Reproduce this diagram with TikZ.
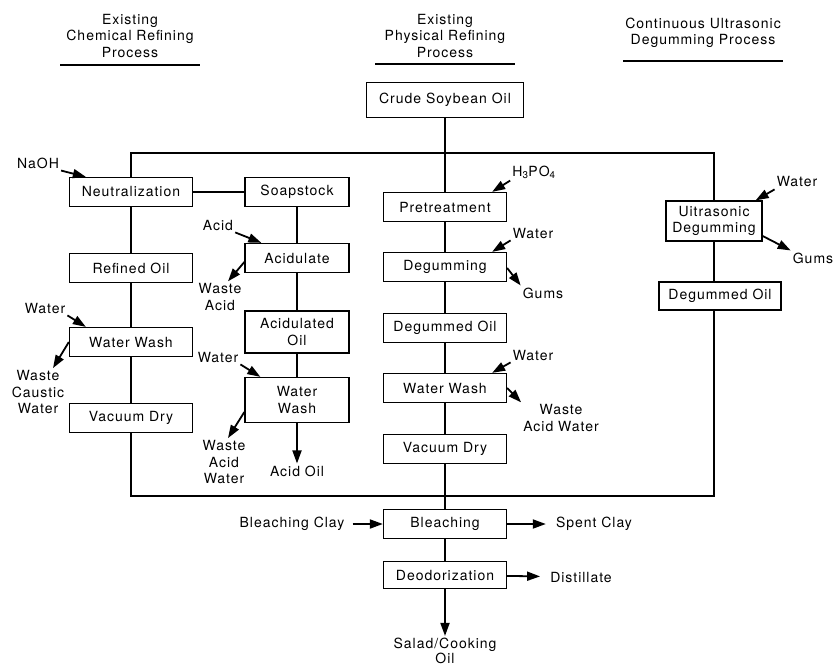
\documentclass[tikz,border=0pt]{standalone}
\usepackage{fontspec}
\setmainfont[LetterSpace=7]{TeX Gyre Heros}
\usetikzlibrary{arrows.meta}

\begin{document}
\begin{tikzpicture}[x=1pt,y=-1pt,
    every node/.style={font=\fontsize{14}{16.5}\selectfont, inner sep=2pt},
    stage/.style={draw, line width=1.3pt, minimum height=29pt, minimum width=123pt, align=center, inner sep=0pt},
    narrow/.style={stage, minimum width=104pt},
    tag/.style={align=center},
    pipe/.style={line width=1.3pt},
    feed/.style={line width=1.8pt, -{Triangle[length=13pt,width=9pt]}}]
    \useasboundingbox (0,0) rectangle (834,666);
    \node[tag] (hchem) at (130,36) {Existing\\Chemical Refining\\Process};
    \node[tag] (hphys) at (445,36) {Existing\\Physical Refining\\Process};
    \node[tag] (hcont) at (703,33) {Continuous Ultrasonic\\Degumming Process};
    \draw[pipe] (60,65) -- (200,65);
    \draw[pipe] (375,64) -- (515,64);
    \draw[pipe] (623,61) -- (783,61);
    \node[stage, minimum width=157pt, minimum height=35pt] (crude) at (445,100) {Crude Soybean Oil};
    \node[stage] (neut) at (131,192) {Neutralization};
    \node[narrow] (soap) at (297,192) {Soapstock};
    \node[stage] (refined) at (131,268) {Refined Oil};
    \node[stage] (washC) at (131,342) {Water Wash};
    \node[stage] (dryC) at (131,418) {Vacuum Dry};
    \node[narrow] (acidulate) at (297,258) {Acidulate};
    \node[narrow, minimum height=42pt] (acidoil) at (297,332) {Acidulated\\Oil};
    \node[narrow, minimum height=45pt] (washS) at (297,400) {Water\\Wash};
    \node[stage] (pret) at (445,207) {Pretreatment};
    \node[stage] (degum) at (445,267) {Degumming};
    \node[stage] (degoil) at (445,328) {Degummed Oil};
    \node[stage] (washP) at (445,388) {Water Wash};
    \node[stage] (dryP) at (445,449) {Vacuum Dry};
    \node[stage, minimum width=96pt, minimum height=40pt] (ultra) at (714,221) {Uitrasonic\\Degumming};
    \node[stage, minimum width=122pt, minimum height=28pt] (degR) at (720,296) {Degummed Oil};
    \node[stage] (bleach) at (445,524) {Bleaching};
    \node[stage, minimum height=27pt] (deod) at (445,575) {Deodorization};
    \node (naoh) at (38,163) {NaOH};
    \node (acid) at (218,225) {Acid};
    \node[tag] (wasteacid) at (220,297) {Waste\\Acid};
    \node (waterC) at (45,308) {Water};
    \node[tag] (wasteC) at (38,392) {Waste\\Caustic\\Water};
    \node (waterS) at (218,357) {Water};
    \node[tag] (wasteS) at (224,462) {Waste\\Acid\\Water};
    \node (acidout) at (297,471) {Acid Oil};
    \node (h3po4) at (534,172) {H\textsubscript{3}PO\textsubscript{4}};
    \node (waterP1) at (533,233) {Water};
    \node (gumsP) at (543,293) {Gums};
    \node (waterP2) at (533,355) {Water};
    \node[tag] (wasteP) at (561,418) {Waste\\Acid Water};
    \node (waterR) at (797,182) {Water};
    \node (gumsR) at (813,258) {Gums};
    \node (bclay) at (292,524) {Bleaching Clay};
    \node (spent) at (594,524) {Spent Clay};
    \node (distill) at (581,577) {Distillate};
    \node[tag, font=\fontsize{14}{15}\selectfont] (salad) at (445,651) {Salad/Cooking\\Oil};
    \coordinate (top) at (445,153);
    \coordinate (bot) at (445,496);
    \draw[pipe] (crude) -- (pret);
    \draw[pipe] (neut.north) |- (top) -| (ultra.north);
    \draw[pipe] (neut) -- (soap);
    \draw[pipe] (neut) -- (refined);
    \draw[pipe] (refined) -- (washC);
    \draw[pipe] (washC) -- (dryC);
    \draw[pipe] (soap) -- (acidulate);
    \draw[pipe] (acidulate) -- (acidoil);
    \draw[pipe] (acidoil) -- (washS);
    \draw[pipe] (pret) -- (degum);
    \draw[pipe] (degum) -- (degoil);
    \draw[pipe] (degoil) -- (washP);
    \draw[pipe] (washP) -- (dryP);
    \draw[pipe] (dryP) -- (bleach);
    \draw[pipe] (bleach) -- (deod);
    \draw[pipe] (ultra.south) -- (ultra.south |- degR.north);
    \draw[pipe] (dryC.south) |- (bot) -| (ultra.south |- degR.south);
    \draw[feed] (naoh.south east) -- ([xshift=17pt]neut.north west);
    \draw[feed] (acid.south east) -- ([xshift=17pt]acidulate.north west);
    \draw[feed] ([yshift=-4pt]acidulate.west) -- ([xshift=8pt]wasteacid.north);
    \draw[feed] (waterC.south east) -- ([xshift=17pt]washC.north west);
    \draw[feed] (washC.west) -- ([xshift=15pt]wasteC.north);
    \draw[feed] (waterS.south east) -- ([xshift=16pt]washS.north west);
    \draw[feed] ([yshift=-12pt]washS.west) -- ([xshift=4pt]wasteS.north);
    \draw[feed] (washS) -- (acidout);
    \draw[feed] (h3po4.south west) -- ([xshift=-15pt]pret.north east);
    \draw[feed] (waterP1.south west) -- ([xshift=-15pt]degum.north east);
    \draw[feed] ([yshift=-1pt]degum.east) -- (gumsP.north west);
    \draw[feed] (waterP2.south west) -- ([xshift=-15pt]washP.north east);
    \draw[feed] (washP.east) -- (wasteP.north west);
    \draw[feed] (waterR.south west) -- ([xshift=-7pt]ultra.north east);
    \draw[feed] ([yshift=-15pt]ultra.east) -- (gumsR.north west);
    \draw[feed, shorten <=6pt] (bclay) -- (bleach);
    \draw[feed, shorten >=8pt] (bleach) -- (spent);
    \draw[feed, shorten >=8pt] (deod) -- (distill);
    \draw[feed] (deod) -- (salad);
  \end{tikzpicture}
\end{document}
